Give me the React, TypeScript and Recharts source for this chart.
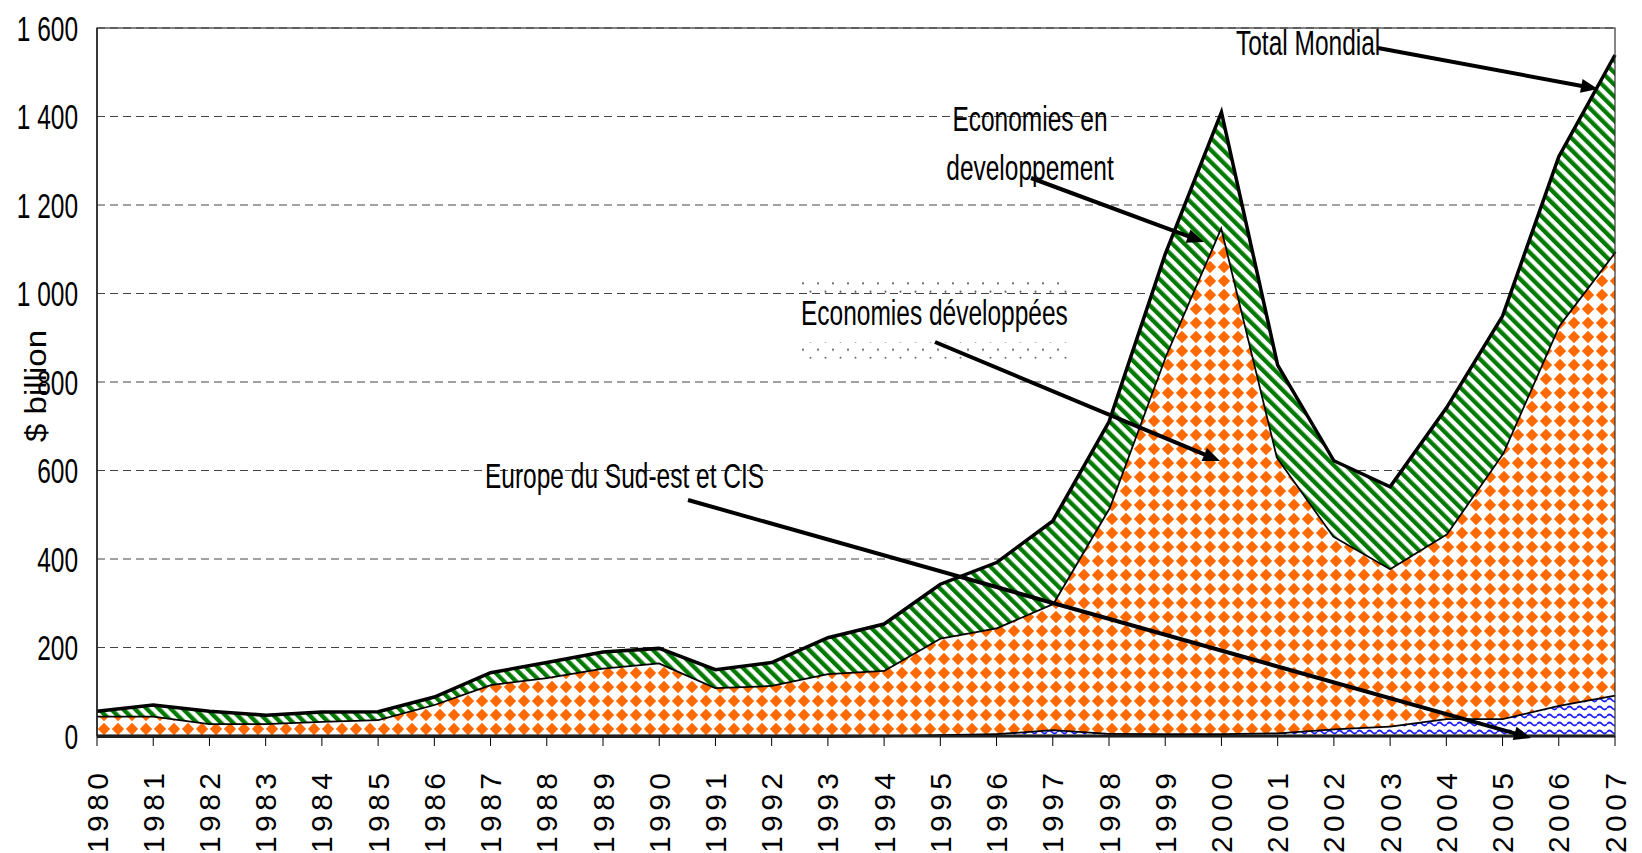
import React from "react";
import { Area, AreaChart, CartesianGrid, XAxis, YAxis } from "recharts";

const years = [
  1980, 1981, 1982, 1983, 1984, 1985, 1986, 1987, 1988, 1989, 1990, 1991, 1992, 1993,
  1994, 1995, 1996, 1997, 1998, 1999, 2000, 2001, 2002, 2003, 2004, 2005, 2006, 2007,
];
// $ billion, stacked bottom -> top
const seeCis = [0, 0, 0, 0, 0, 0, 0, 0, 0, 0, 0, 0, 0, 0, 1, 4, 6, 15, 7, 6, 6, 8, 17, 23, 40, 40, 70, 93];
const developed = [
  46, 46, 29, 29, 34, 38, 72, 117, 133, 154, 166, 110, 115, 142, 148, 218, 239, 285, 509, 853, 1147,
  622, 435, 356, 417, 599, 858, 1002,
];
const developing = [
  10, 24, 27, 18, 20, 17, 16, 26, 33, 36, 32, 40, 51, 80, 104, 121, 147, 186, 194, 230, 257, 208, 170,
  184, 284, 310, 381, 444,
];
const yTicks = [0, 200, 400, 600, 800, 1000, 1200, 1400, 1600];

const data = years.map((year, i) => ({
  year,
  see: seeCis[i],
  dev: developed[i],
  ding: developing[i],
}));

const W = 1642;
const H = 853;
const PLOT = { left: 97, right: 1615, top: 28, bottom: 736 };
const FONT = '"Liberation Sans", Arial, sans-serif';
const FS = 24.5;
const STRETCH = 1.45; // source chart was stretched vertically

const fmt = (v: number) =>
  v >= 1000 ? `${Math.floor(v / 1000)} ${String(v % 1000).padStart(3, "0")}` : String(v);

function YTick({ x, y, payload }: any) {
  return (
    <g transform={`translate(${x - 19},${y}) scale(1,${STRETCH})`}>
      <text x={0} y={0} textAnchor="end" dominantBaseline="central" fontSize={FS} fontFamily={FONT} fill="#000">
        {fmt(payload.value)}
      </text>
    </g>
  );
}

function XTick({ x, payload }: any) {
  return (
    <g transform={`translate(${x + 10.5},773) rotate(-90)`}>
      <text
        x={0}
        y={0}
        textAnchor="end"
        fontSize={30}
        fontFamily={FONT}
        fill="#000"
        textLength={80}
        lengthAdjust="spacing"
      >
        {payload.value}
      </text>
    </g>
  );
}

function Note({ x, y, anchor = "start", children }: any) {
  return (
    <g transform={`translate(${x},${y}) scale(1,${STRETCH})`}>
      <text x={0} y={0} textAnchor={anchor} fontSize={FS} fontFamily={FONT} fill="#000">
        {children}
      </text>
    </g>
  );
}

function Arrow({ x1, y1, x2, y2 }: any) {
  const len = Math.hypot(x2 - x1, y2 - y1);
  const ux = (x2 - x1) / len;
  const uy = (y2 - y1) / len;
  const hl = 17;
  const hw = 7;
  const bx = x2 - ux * hl;
  const by = y2 - uy * hl;
  const pts = `${x2},${y2} ${bx - uy * hw},${by + ux * hw} ${bx + uy * hw},${by - ux * hw}`;
  return (
    <g>
      <line x1={x1} y1={y1} x2={bx + ux * 2} y2={by + uy * 2} stroke="#000" strokeWidth={4} />
      <polygon points={pts} fill="#000" />
    </g>
  );
}

export default function App() {
  return (
    <div style={{ position: "absolute", left: 0, top: 0, width: W, height: H, background: "#fff" }}>
      <svg width={W} height={H} style={{ position: "absolute", left: 0, top: 0 }}>
        <defs>
          <pattern id="diamonds" width={14} height={14} patternUnits="userSpaceOnUse" x={PLOT.left} y={PLOT.bottom}>
            <rect width={14} height={14} fill="#fff" />
            <polygon points="7,0.8 13.2,7 7,13.2 0.8,7" fill="#ff6a00" />
          </pattern>
          <pattern id="stripes" width={8.5} height={8.5} patternUnits="userSpaceOnUse" patternTransform="rotate(-45)">
            <rect width={8.5} height={8.5} fill="#fff" />
            <rect width={4.3} height={8.5} fill="#007a00" />
          </pattern>
          <pattern id="waves" width={10} height={8} patternUnits="userSpaceOnUse" x={PLOT.left} y={PLOT.bottom}>
            <rect width={10} height={8} fill="#fff" />
            <path d="M0,4 Q2.5,1 5,4 T10,4" fill="none" stroke="#1a1aff" strokeWidth={1.8} />
          </pattern>
          <pattern id="dots" width={15} height={16.6} patternUnits="userSpaceOnUse" x={800} y={280}>
            <circle cx={3} cy={3.3} r={1} fill="#555" />
            <circle cx={10.5} cy={11.6} r={1} fill="#555" />
          </pattern>
        </defs>
      </svg>
      <AreaChart
        width={W}
        height={H}
        data={data}
        margin={{ top: PLOT.top, right: W - PLOT.right, left: 0, bottom: 0 }}
        style={{ position: "absolute", left: 0, top: 0 }}
      >
        <CartesianGrid vertical={false} stroke="#444" strokeDasharray="8 5" />
        <XAxis
          dataKey="year"
          type="number"
          domain={[1980, 2007]}
          ticks={years}
          interval={0}
          height={H - PLOT.bottom}
          tickSize={10}
          tickMargin={0}
          tick={<XTick />}
          tickLine={{ stroke: "#000", strokeWidth: 1 }}
          axisLine={{ stroke: "#000", strokeWidth: 3 }}
        />
        <YAxis
          domain={[0, 1600]}
          ticks={yTicks}
          interval={0}
          width={PLOT.left}
          tickSize={0}
          tickMargin={0}
          tickLine={false}
          tick={<YTick />}
          axisLine={{ stroke: "#000", strokeWidth: 1.5 }}
        />
        <Area type="linear" dataKey="see" stackId="a" stroke="#000" strokeWidth={3.5} fill="url(#waves)" fillOpacity={1} dot={false} activeDot={false} isAnimationActive={false} />
        <Area type="linear" dataKey="dev" stackId="a" stroke="#000" strokeWidth={3.5} fill="url(#diamonds)" fillOpacity={1} dot={false} activeDot={false} isAnimationActive={false} />
        <Area type="linear" dataKey="ding" stackId="a" stroke="#000" strokeWidth={3.5} fill="url(#stripes)" fillOpacity={1} dot={false} activeDot={false} isAnimationActive={false} />
      </AreaChart>
      <svg width={W} height={H} style={{ position: "absolute", left: 0, top: 0, pointerEvents: "none" }}>
        <rect
          x={PLOT.left}
          y={PLOT.top}
          width={PLOT.right - PLOT.left}
          height={PLOT.bottom - PLOT.top}
          fill="none"
          stroke="#333"
          strokeWidth={1.2}
        />
        <g transform="translate(46,386) rotate(-90)">
          <text
            x={0}
            y={0}
            textAnchor="middle"
            fontSize={30}
            fontFamily={FONT}
            fill="#000"
            textLength={112}
            lengthAdjust="spacingAndGlyphs"
          >
            $ billion
          </text>
        </g>

        <Note x={1236} y={55}>Total Mondial</Note>
        <Arrow x1={1378} y1={48} x2={1598} y2={89} />

        <Note x={1030} y={131} anchor="middle">Economies en</Note>
        <Note x={1030} y={180} anchor="middle">developpement</Note>
        <Arrow x1={1031} y1={178} x2={1204} y2={242} />

        <rect x={800} y={280} width={272} height={16.6} fill="url(#dots)" />
        <rect x={800} y={342} width={272} height={16.6} fill="url(#dots)" />
        <Note x={801} y={325}>Economies développées</Note>
        <Arrow x1={935} y1={342} x2={1220} y2={461} />

        <Note x={485} y={488}>Europe du Sud-est et CIS</Note>
        <Arrow x1={688} y1={500} x2={1531} y2={738} />
      </svg>
    </div>
  );
}
